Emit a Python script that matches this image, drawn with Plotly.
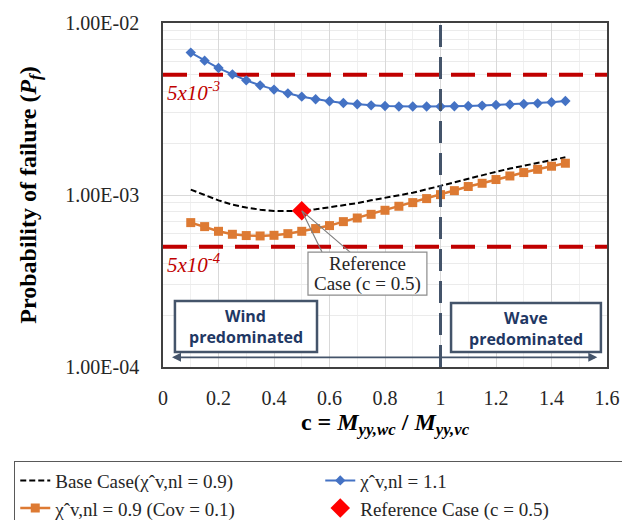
import plotly.graph_objects as go
import numpy as np

# ---- data ----
c_vals = [0.10, 0.15, 0.20, 0.25, 0.30, 0.35, 0.40, 0.45, 0.50, 0.55,
          0.60, 0.65, 0.70, 0.75, 0.80, 0.85, 0.90, 0.95, 1.00, 1.05,
          1.10, 1.15, 1.20, 1.25, 1.30, 1.35, 1.40, 1.45]

pf_base = [1.075e-3, 9.96e-4, 9.31e-4, 8.79e-4, 8.45e-4, 8.22e-4, 8.07e-4, 8.07e-4,
           8.11e-4, 8.26e-4, 8.48e-4, 8.71e-4, 8.97e-4, 9.31e-4, 9.62e-4, 9.96e-4,
           1.031e-3, 1.079e-3, 1.131e-3, 1.185e-3, 1.240e-3, 1.310e-3, 1.364e-3,
           1.424e-3, 1.482e-3, 1.539e-3, 1.598e-3, 1.657e-3]

pf_chi11 = [6.73e-3, 6.04e-3, 5.47e-3, 5.03e-3, 4.64e-3, 4.34e-3, 4.10e-3, 3.90e-3,
            3.73e-3, 3.60e-3, 3.51e-3, 3.43e-3, 3.37e-3, 3.32e-3, 3.29e-3, 3.27e-3,
            3.27e-3, 3.27e-3, 3.27e-3, 3.28e-3, 3.29e-3, 3.31e-3, 3.34e-3, 3.36e-3,
            3.38e-3, 3.41e-3, 3.46e-3, 3.52e-3]

pf_cov = [6.91e-4, 6.55e-4, 6.15e-4, 5.91e-4, 5.81e-4, 5.78e-4, 5.83e-4, 5.96e-4,
          6.15e-4, 6.38e-4, 6.64e-4, 7.00e-4, 7.35e-4, 7.72e-4, 8.15e-4, 8.60e-4,
          9.03e-4, 9.53e-4, 1.005e-3, 1.06e-3, 1.12e-3, 1.17e-3, 1.23e-3, 1.29e-3,
          1.35e-3, 1.41e-3, 1.47e-3, 1.53e-3]

ref_c = [0.5]
ref_pf = [8.11e-4]

pf_limit_hi = 5e-3
pf_limit_lo = 5e-4
c_split = 1.0

x_range = [0, 1.6]
y_decades = [1e-4, 1e-3, 1e-2]
y_ticktext = ["1.00E-04", "1.00E-03", "1.00E-02"]
y_minor = [k * 10.0 ** e for e in (-4, -3) for k in range(2, 10)]

SERIF = "Liberation Serif"
SANS = "Open Sans"
RED = "#C00000"
SLATE = "#44546A"
NAVY = "#1F3864"


def ypaper(v):
    """Fraction of the plot height for a value on the log y axis."""
    return (np.log10(v) - np.log10(y_decades[0])) / (np.log10(y_decades[-1]) - np.log10(y_decades[0]))


fig = go.Figure()

# failure-probability limits
for lim in (pf_limit_hi, pf_limit_lo):
    fig.add_trace(go.Scatter(x=x_range, y=[lim, lim], mode="lines",
                             line=dict(color=RED, width=4, dash="24px,12px"),
                             showlegend=False, hoverinfo="skip"))

fig.add_trace(go.Scatter(x=c_vals, y=pf_base, mode="lines",
                         name="Base Case(χˆv,nl = 0.9)",
                         line=dict(color="black", width=2, dash="6px,3px")))
fig.add_trace(go.Scatter(x=c_vals, y=pf_chi11, mode="lines+markers",
                         name="χˆv,nl = 1.1",
                         line=dict(color="#4472C4", width=2),
                         marker=dict(symbol="diamond", size=8, color="#4472C4")))
fig.add_trace(go.Scatter(x=c_vals, y=pf_cov, mode="lines+markers",
                         name="χˆv,nl = 0.9 (Cov = 0.1)",
                         line=dict(color="#DD7A33", width=2.5),
                         marker=dict(symbol="square", size=9, color="#DD7A33")))
fig.add_trace(go.Scatter(x=ref_c, y=ref_pf, mode="markers",
                         name="Reference Case (c = 0.5)",
                         marker=dict(symbol="diamond", size=15, color="#FF0000")))

shapes = []
# wind / wave separation
shapes.append(dict(type="line", xref="x", yref="paper", x0=c_split, x1=c_split, y0=0, y1=1,
                   line=dict(color=SLATE, width=3, dash="22px,10px")))
# callout pointer
tip_y = ypaper(ref_pf[0])
shapes.append(dict(type="path", xref="x", yref="paper",
                   path=f"M 0.573,0.334 L {ref_c[0]},{tip_y} L 0.674,0.334",
                   line=dict(color="#7F7F7F", width=1.2)))
# callout box
shapes.append(dict(type="rect", xref="x", yref="paper", x0=0.5225, x1=0.951, y0=0.209, y1=0.334,
                   fillcolor="white", line=dict(color="#8C8C8C", width=1.2)))
# regime boxes
shapes.append(dict(type="rect", xref="x", yref="paper", x0=0.043, x1=0.555, y0=0.0436, y1=0.1917,
                   fillcolor="white", line=dict(color=SLATE, width=2.5)))
shapes.append(dict(type="rect", xref="x", yref="paper", x0=1.038, x1=1.578, y0=0.0436, y1=0.186,
                   fillcolor="white", line=dict(color=SLATE, width=2.5)))


def label(x, y, text, font):
    return dict(xref="x", yref="paper", x=x, y=y, showarrow=False, text=text,
                xanchor="center", yanchor="middle", font=font)


serif_box = dict(family=SERIF, size=19, color="#262626")
box_font = dict(family=SANS, size=16, color=NAVY)

annotations = [
    label(0.7365, 0.302, "Reference", serif_box),
    label(0.7365, 0.240, "Case (c = 0.5)", serif_box),
    label(0.299, 0.148, "<b>Wind</b>", box_font),
    label(0.299, 0.087, "<b>predominated</b>", box_font),
    label(1.308, 0.142, "<b>Wave</b>", box_font),
    label(1.308, 0.081, "<b>predominated</b>", box_font),
    dict(xref="x", yref="y", x=1.565, y=-3.944, axref="x", ayref="y", ax=0.027, ay=-3.944,
         showarrow=True, arrowhead=2, arrowside="end+start", arrowsize=1, arrowwidth=1.8,
         arrowcolor=SLATE, text=""),
    dict(xref="paper", yref="y", x=0.005, y=np.log10(pf_limit_hi), yshift=-17, xanchor="left",
         showarrow=False, text="<i>5x10<sup>-3</sup></i>", font=dict(family=SERIF, size=21, color=RED)),
    dict(xref="paper", yref="y", x=0.005, y=np.log10(pf_limit_lo), yshift=-17, xanchor="left",
         showarrow=False, text="<i>5x10<sup>-4</sup></i>", font=dict(family=SERIF, size=21, color=RED)),
]

fig.update_layout(
    width=622, height=520,
    margin=dict(l=163, r=15, t=23, b=153, autoexpand=False),
    paper_bgcolor="white", plot_bgcolor="white",
    font=dict(family=SERIF, size=19, color="#262626"),
    shapes=shapes, annotations=annotations,
    showlegend=True,
    legend=dict(orientation="h", xref="paper", yref="paper", x=-0.335, y=-0.272,
                xanchor="left", yanchor="top", entrywidth=260,
                bordercolor="#595959", borderwidth=1, bgcolor="white",
                font=dict(family=SERIF, size=19, color="#262626"),
                traceorder="normal", itemwidth=30, tracegroupgap=0),
    xaxis=dict(range=x_range, dtick=0.2, tick0=0, showgrid=True, gridcolor="#D9D9D9",
               minor=dict(dtick=0.1, showgrid=True, gridcolor="#F0F0F0"),
               showline=True, mirror=True, linecolor="#404040", linewidth=1.5,
               zeroline=False, ticks="", ticklabelstandoff=12,
               tickfont=dict(family=SERIF, size=20, color="#262626"),
               title=dict(text="<b>c = <i>M<sub>yy,wc</sub></i> / <i>M<sub>yy,vc</sub></i></b>",
                          font=dict(family=SERIF, size=24, color="#000000"), standoff=3)),
    yaxis=dict(type="log", range=[-4, -2], tickvals=y_decades, ticktext=y_ticktext,
               showgrid=True, gridcolor="#D9D9D9",
               minor=dict(tickvals=y_minor, showgrid=True, gridcolor="#EBEBEB"),
               showline=True, mirror=True, linecolor="#404040", linewidth=1.5,
               zeroline=False, ticks="", ticklabelstandoff=18,
               tickfont=dict(family=SERIF, size=20, color="#262626"),
               title=dict(text="<b>Probability of failure (<i>P<sub>f</sub></i>)</b>",
                          font=dict(family=SERIF, size=24, color="#000000"), standoff=22)),
)

fig.write_html("out.html")
